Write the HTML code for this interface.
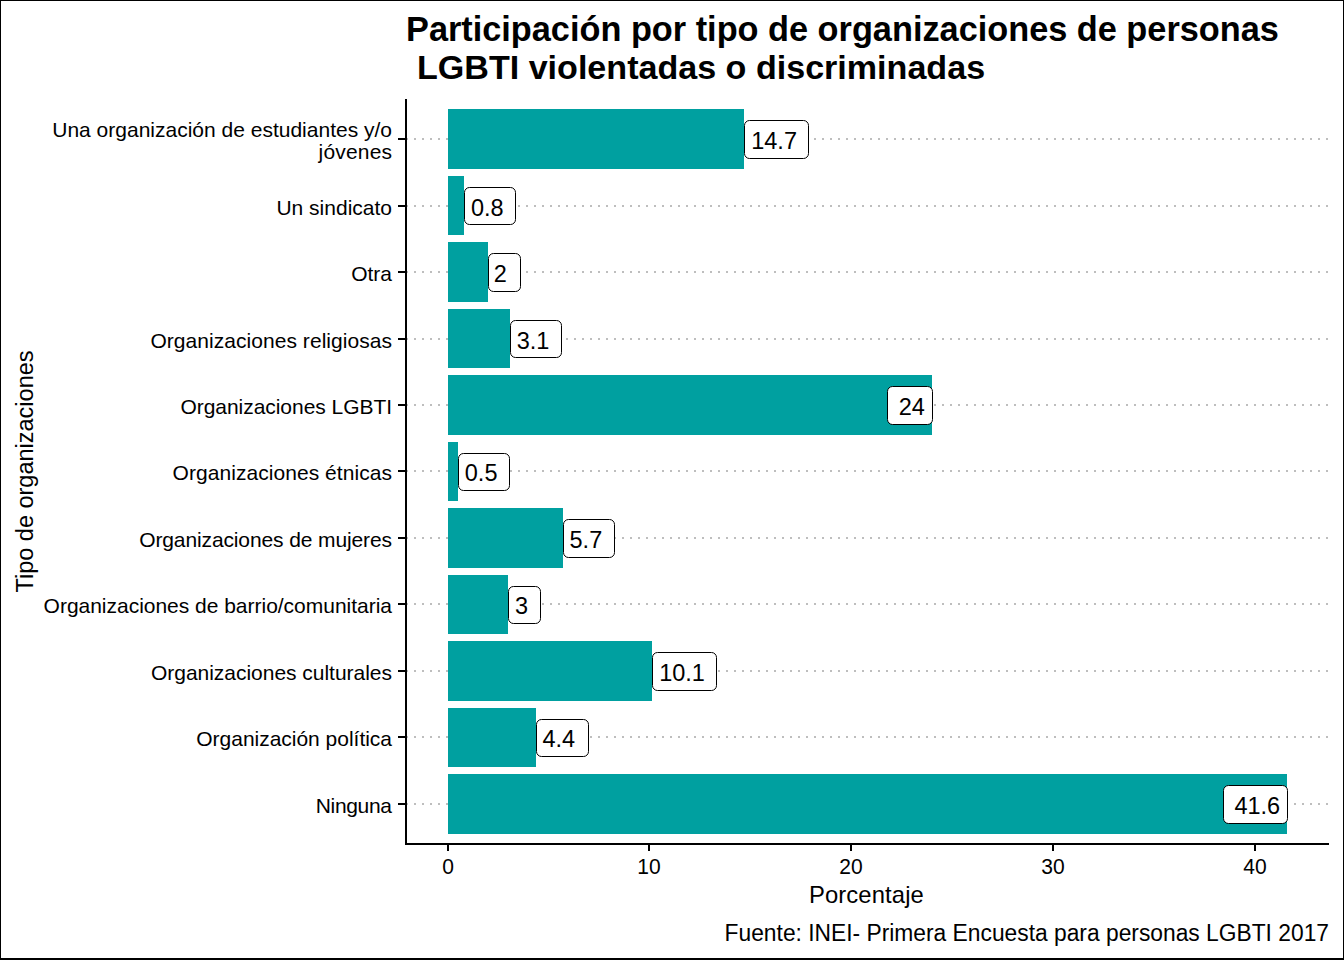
<!DOCTYPE html><html><head><meta charset="utf-8"><title>Participación por tipo de organizaciones</title><style>
html,body{margin:0;padding:0;background:#fff;}svg{display:block;}
text{font-family:"Liberation Sans",Arial,sans-serif;fill:#000;}
</style></head><body>
<svg width="1344" height="960" viewBox="0 0 1344 960" shape-rendering="crispEdges">
<rect x="0" y="0" width="1344" height="960" fill="#fff"/>
<g stroke="#bebebe" stroke-width="2" stroke-dasharray="2 6"><line x1="406" y1="139" x2="1329" y2="139"/><line x1="406" y1="206" x2="1329" y2="206"/><line x1="406" y1="272" x2="1329" y2="272"/><line x1="406" y1="339" x2="1329" y2="339"/><line x1="406" y1="405" x2="1329" y2="405"/><line x1="406" y1="471" x2="1329" y2="471"/><line x1="406" y1="538" x2="1329" y2="538"/><line x1="406" y1="604" x2="1329" y2="604"/><line x1="406" y1="671" x2="1329" y2="671"/><line x1="406" y1="737" x2="1329" y2="737"/><line x1="406" y1="804" x2="1329" y2="804"/></g>
<g fill="#00A0A0"><rect x="448" y="109" width="296" height="60"/><rect x="448" y="176" width="16" height="59"/><rect x="448" y="242" width="40" height="60"/><rect x="448" y="309" width="62" height="59"/><rect x="448" y="375" width="484" height="60"/><rect x="448" y="442" width="10" height="59"/><rect x="448" y="508" width="115" height="60"/><rect x="448" y="575" width="60" height="59"/><rect x="448" y="641" width="204" height="60"/><rect x="448" y="708" width="88" height="59"/><rect x="448" y="774" width="839" height="60"/></g>
<g fill="#fff" stroke="#000" stroke-width="1" shape-rendering="geometricPrecision"><rect x="744.5" y="120.5" width="64" height="38" rx="5" ry="5"/><rect x="464.5" y="187.5" width="51" height="37" rx="5" ry="5"/><rect x="488.5" y="253.5" width="32" height="38" rx="5" ry="5"/><rect x="510.5" y="320.5" width="51" height="37" rx="5" ry="5"/><rect x="887.5" y="386.5" width="45" height="38" rx="5" ry="5"/><rect x="458.5" y="453.5" width="51" height="37" rx="5" ry="5"/><rect x="563.5" y="519.5" width="51" height="38" rx="5" ry="5"/><rect x="508.5" y="586.5" width="32" height="37" rx="5" ry="5"/><rect x="652.5" y="652.5" width="64" height="38" rx="5" ry="5"/><rect x="536.5" y="719.5" width="52" height="37" rx="5" ry="5"/><rect x="1223.5" y="785.5" width="64" height="38" rx="5" ry="5"/></g>
<g font-size="23.5"><text x="751.24" y="149">14.7</text><text x="470.91" y="216">0.8</text><text x="493.69" y="282">2</text><text x="516.69" y="349">3.1</text><text x="898.69" y="415">24</text><text x="464.81" y="481">0.5</text><text x="569.54" y="548">5.7</text><text x="514.89" y="614">3</text><text x="659.14" y="681">10.1</text><text x="542.49" y="747">4.4</text><text x="1234.39" y="814">41.6</text></g>
<g fill="#000">
<rect x="405" y="99" width="2" height="746"/>
<rect x="405" y="843" width="924" height="2"/>
<rect x="398" y="138" width="8" height="2"/>
<rect x="398" y="205" width="8" height="2"/>
<rect x="398" y="271" width="8" height="2"/>
<rect x="398" y="338" width="8" height="2"/>
<rect x="398" y="404" width="8" height="2"/>
<rect x="398" y="470" width="8" height="2"/>
<rect x="398" y="537" width="8" height="2"/>
<rect x="398" y="603" width="8" height="2"/>
<rect x="398" y="670" width="8" height="2"/>
<rect x="398" y="736" width="8" height="2"/>
<rect x="398" y="803" width="8" height="2"/>
<rect x="447" y="843" width="2" height="8"/>
<rect x="648" y="843" width="2" height="8"/>
<rect x="850" y="843" width="2" height="8"/>
<rect x="1052" y="843" width="2" height="8"/>
<rect x="1254" y="843" width="2" height="8"/>
</g>
<g font-size="21" text-anchor="end"><text x="392" y="136.7">Una organización de estudiantes y/o</text><text x="392" y="159.3" textLength="73.39" lengthAdjust="spacing">jóvenes</text><text x="392" y="215">Un sindicato</text><text x="392" y="281">Otra</text><text x="392" y="348" textLength="241.57" lengthAdjust="spacing">Organizaciones religiosas</text><text x="392" y="414" textLength="211.54" lengthAdjust="spacing">Organizaciones LGBTI</text><text x="392" y="480" textLength="219.50" lengthAdjust="spacing">Organizaciones étnicas</text><text x="392" y="547" textLength="252.84" lengthAdjust="spacing">Organizaciones de mujeres</text><text x="392" y="613" textLength="348.42" lengthAdjust="spacing">Organizaciones de barrio/comunitaria</text><text x="392" y="680" textLength="241.02" lengthAdjust="spacing">Organizaciones culturales</text><text x="392" y="746" textLength="195.71" lengthAdjust="spacing">Organización política</text><text x="392" y="813" textLength="76.23" lengthAdjust="spacing">Ninguna</text></g>
<g font-size="21.7" text-anchor="middle"><text x="448" y="874" textLength="11.68" lengthAdjust="spacingAndGlyphs">0</text><text x="649" y="874" textLength="23.36" lengthAdjust="spacingAndGlyphs">10</text><text x="851" y="874" textLength="23.36" lengthAdjust="spacingAndGlyphs">20</text><text x="1053" y="874" textLength="23.36" lengthAdjust="spacingAndGlyphs">30</text><text x="1255" y="874" textLength="23.36" lengthAdjust="spacingAndGlyphs">40</text></g>
<text x="866.4" y="903" font-size="23.8" text-anchor="middle" textLength="114.9" lengthAdjust="spacing">Porcentaje</text>
<text transform="translate(32.9 471.5) rotate(-90)" x="0" y="0" font-size="23.5" text-anchor="middle">Tipo de organizaciones</text>
<text x="406" y="40.7" font-size="34.3" font-weight="bold">Participación por tipo de organizaciones de personas</text>
<text x="407.5" y="78.8" font-size="34.1" font-weight="bold" xml:space="preserve"> LGBTI violentadas o discriminadas</text>
<text x="1329" y="941" font-size="23.5" text-anchor="end" textLength="604.4" lengthAdjust="spacingAndGlyphs">Fuente: INEI- Primera Encuesta para personas LGBTI 2017</text>
<rect x="0" y="0" width="1344" height="1" fill="#000"/>
<rect x="0" y="0" width="1" height="960" fill="#000"/>
<rect x="1343" y="0" width="1" height="960" fill="#000"/>
<rect x="0" y="958" width="1344" height="2" fill="#000"/>
</svg></body></html>
